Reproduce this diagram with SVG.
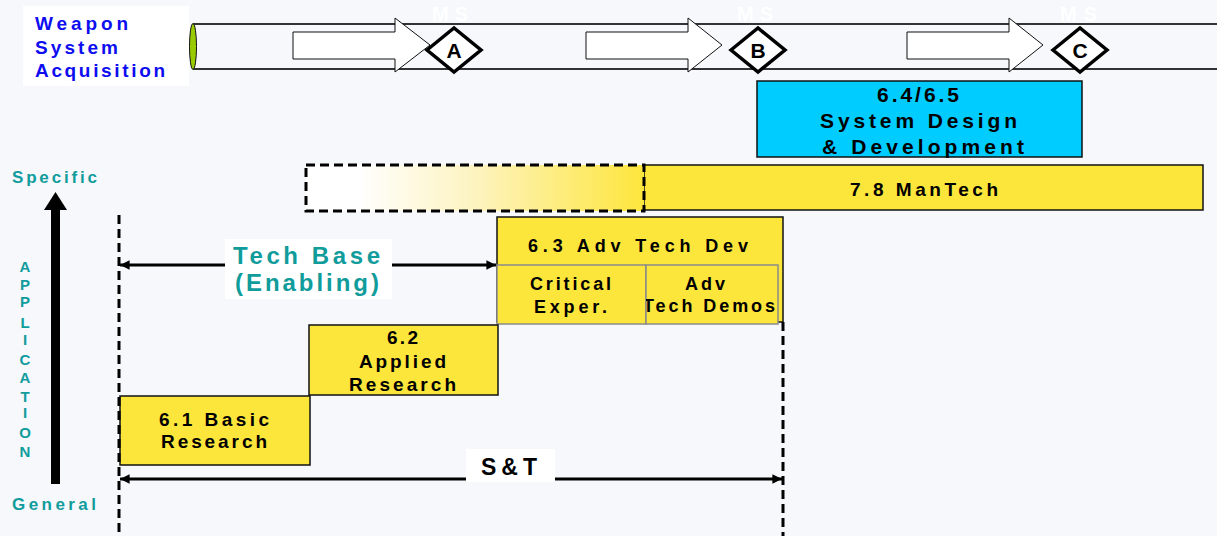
<svg xmlns="http://www.w3.org/2000/svg" width="1217" height="536" viewBox="0 0 1217 536">
<defs>
<style>
.t{font-family:"Liberation Sans",Arial,sans-serif;font-weight:bold;}
.blk{fill:#000;}
.blue{fill:#0d0df0;}
.teal{fill:#119c9c;}
.yel{fill:#fde63c;stroke:#111;stroke-width:1.5;}
.sub{fill:#fde63c;stroke:#8a8a8a;stroke-width:1.5;}
.barrow{fill:#fff;stroke:#111;stroke-width:1;}
.dia{fill:#fff;stroke:#000;stroke-width:3.5;stroke-linejoin:miter;}
.dash{fill:none;stroke:#000;stroke-width:3;stroke-dasharray:9 5;}
.conn{stroke:#000;stroke-width:3;fill:none;}
</style>
<linearGradient id="fade" x1="0" y1="0" x2="1" y2="0">
<stop offset="0" stop-color="#ffffff"/>
<stop offset="0.15" stop-color="#ffffff"/>
<stop offset="0.5" stop-color="#fdf3c0"/>
<stop offset="1" stop-color="#fde63c"/>
</linearGradient>
<marker id="ah" viewBox="0 0 10 10" refX="10" refY="5" markerWidth="4" markerHeight="3.2" orient="auto-start-reverse" markerUnits="strokeWidth">
<path d="M0,0 L10,5 L0,10 Z" fill="#000"/>
</marker>
<clipPath id="clipDemos"><rect x="646" y="265" width="132" height="59"/></clipPath>
</defs>
<rect x="0" y="0" width="1217" height="536" fill="#f6f8fc"/>

<g id="acq-label">
<rect x="23" y="6" width="166" height="80" fill="#fff"/>
<text class="t blue" x="35" y="30" font-size="19" textLength="93" lengthAdjust="spacing">Weapon</text>
<text class="t blue" x="35" y="54" font-size="19" textLength="83" lengthAdjust="spacing">System</text>
<text class="t blue" x="35" y="77" font-size="19" textLength="130" lengthAdjust="spacing">Acquisition</text>
</g>

<g id="pipeline">
<line x1="193" y1="24" x2="1217" y2="24" stroke="#333" stroke-width="2"/>
<line x1="193" y1="69" x2="1217" y2="69" stroke="#333" stroke-width="2"/>
<ellipse cx="193" cy="46.5" rx="3.5" ry="23" fill="#99cc00" stroke="#111" stroke-width="1"/>
</g>

<g id="phase-arrow-1"><path class="barrow" d="M293,32 H395 V18 L430,45 L395,72 V59 H293 Z"/></g>
<g id="phase-arrow-2"><path class="barrow" d="M586,32 H688 V18 L722,45 L688,72 V59 H586 Z"/></g>
<g id="phase-arrow-3"><path class="barrow" d="M907,32 H1009 V18 L1043,45 L1009,72 V59 H907 Z"/></g>

<g id="ms-a">
<text class="t" x="432" y="21" font-size="20" fill="#ffffff" textLength="36" lengthAdjust="spacing">MS</text>
<path class="dia" d="M427,50 L454,28 L481,50 L454,72 Z"/>
<text class="t blk" x="454" y="58" font-size="21" text-anchor="middle">A</text>
</g>
<g id="ms-b">
<text class="t" x="737" y="21" font-size="20" fill="#ffffff" textLength="36" lengthAdjust="spacing">MS</text>
<path class="dia" d="M731,50 L758,28 L785,50 L758,72 Z"/>
<text class="t blk" x="758" y="58" font-size="21" text-anchor="middle">B</text>
</g>
<g id="ms-c">
<text class="t" x="1060" y="21" font-size="20" fill="#ffffff" textLength="37" lengthAdjust="spacing">MS</text>
<path class="dia" d="M1053,50 L1080,28 L1107,50 L1080,72 Z"/>
<text class="t blk" x="1080" y="58" font-size="21" text-anchor="middle">C</text>
</g>

<g id="sdd">
<rect x="757" y="81" width="325" height="76" fill="#00ccff" stroke="#111" stroke-width="1.5"/>
<text class="t blk" x="877" y="102" font-size="21" textLength="82" lengthAdjust="spacing">6.4/6.5</text>
<text class="t blk" x="820" y="128" font-size="21" textLength="197" lengthAdjust="spacing">System Design</text>
<text class="t blk" x="822" y="154" font-size="21" textLength="202" lengthAdjust="spacing">&amp; Development</text>
</g>

<g id="mantech">
<rect x="644" y="165" width="559" height="45" class="yel"/>
<text class="t blk" x="850" y="196" font-size="19" textLength="148" lengthAdjust="spacing">7.8 ManTech</text>
</g>

<g id="mantech-fade">
<rect x="306" y="165" width="338" height="46" fill="url(#fade)" stroke="#000" stroke-width="3" stroke-dasharray="9 5"/>
</g>

<g id="adv-tech-dev">
<rect x="497" y="217" width="286" height="105" class="yel"/>
<text class="t blk" x="528" y="252" font-size="18" textLength="220" lengthAdjust="spacing">6.3 Adv Tech Dev</text>
</g>
<g id="critical-exper">
<rect x="497" y="265" width="149" height="59" class="sub"/>
<text class="t blk" x="530" y="290" font-size="18" textLength="81" lengthAdjust="spacing">Critical</text>
<text class="t blk" x="534" y="313" font-size="18" textLength="73" lengthAdjust="spacing">Exper.</text>
</g>
<g id="adv-tech-demos">
<rect x="646" y="265" width="132" height="59" class="sub"/>
<text class="t blk" x="685" y="290" font-size="18" textLength="40" lengthAdjust="spacing">Adv</text>
<text class="t blk" x="643" y="312" font-size="18" textLength="132" lengthAdjust="spacing" clip-path="url(#clipDemos)">Tech Demos</text>
</g>

<g id="applied-research">
<rect x="309" y="325" width="189" height="70" class="yel"/>
<text class="t blk" x="387" y="344" font-size="19" textLength="31" lengthAdjust="spacing">6.2</text>
<text class="t blk" x="359" y="368" font-size="19" textLength="87" lengthAdjust="spacing">Applied</text>
<text class="t blk" x="349" y="391" font-size="19" textLength="107" lengthAdjust="spacing">Research</text>
</g>

<g id="basic-research">
<rect x="120" y="396" width="190" height="69" class="yel"/>
<text class="t blk" x="159" y="426" font-size="19" textLength="110" lengthAdjust="spacing">6.1 Basic</text>
<text class="t blk" x="161" y="448" font-size="19" textLength="106" lengthAdjust="spacing">Research</text>
</g>

<g id="axis">
<rect x="51" y="208" width="9" height="276" fill="#000"/>
<path d="M44,210 L55.5,192 L67,210 Z" fill="#000"/>
<text class="t teal" x="12" y="183" font-size="17" textLength="85" lengthAdjust="spacing">Specific</text>
<text class="t teal" x="12" y="510" font-size="17" textLength="84" lengthAdjust="spacing">General</text>
<g class="t teal" font-size="15" text-anchor="middle">
<text x="25" y="272">A</text>
<text x="25" y="290">P</text>
<text x="25" y="307">P</text>
<text x="25" y="328">L</text>
<text x="25" y="345">I</text>
<text x="25" y="365">C</text>
<text x="25" y="383">A</text>
<text x="25" y="402">T</text>
<text x="25" y="418">I</text>
<text x="25" y="438">O</text>
<text x="25" y="457">N</text>
</g>
</g>

<g id="connectors">
<line class="dash" x1="119" y1="215" x2="119" y2="536"/>
<line class="dash" x1="783" y1="322" x2="783" y2="536"/>
<line class="conn" x1="120" y1="265" x2="496" y2="265" marker-start="url(#ah)" marker-end="url(#ah)"/>
<line class="conn" x1="120" y1="479" x2="782" y2="479" marker-start="url(#ah)" marker-end="url(#ah)"/>
</g>

<g id="tech-base-label">
<rect x="225" y="239" width="167" height="60" fill="#fff"/>
<text class="t teal" x="233" y="264" font-size="24" textLength="147" lengthAdjust="spacing">Tech Base</text>
<text class="t teal" x="235" y="291" font-size="24" textLength="144" lengthAdjust="spacing">(Enabling)</text>
</g>

<g id="st-label">
<rect x="466" y="449" width="89" height="33" fill="#fff"/>
<text class="t blk" x="481" y="475" font-size="23" textLength="56" lengthAdjust="spacing">S&amp;T</text>
</g>
</svg>
